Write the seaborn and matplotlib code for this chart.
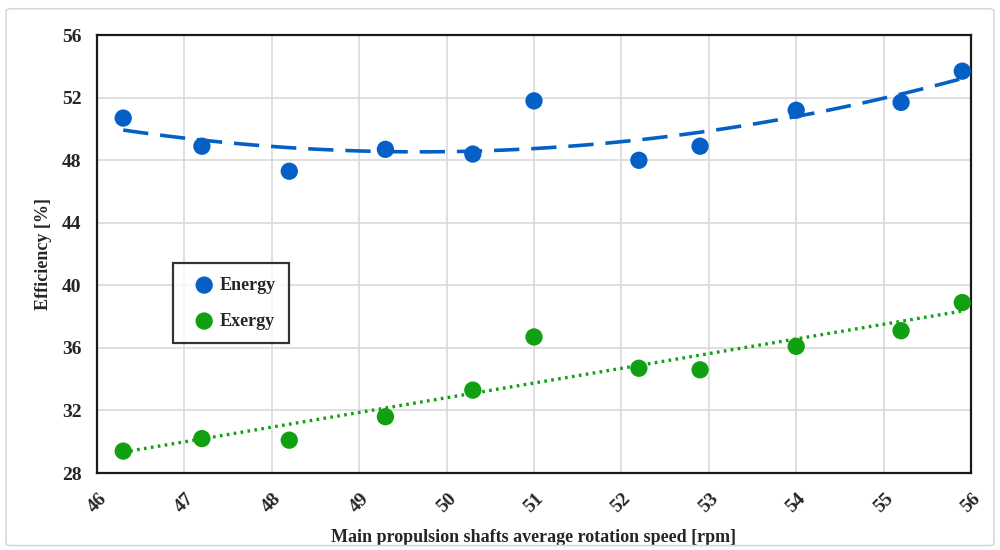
import matplotlib
matplotlib.use("Agg")
import matplotlib.pyplot as plt
from matplotlib.patches import FancyBboxPatch
import seaborn as sns
import numpy as np

speed = [46.3, 47.2, 48.2, 49.3, 50.3, 51.0, 52.2, 52.9, 54.0, 55.2, 55.9]
energy = [50.7, 48.9, 47.3, 48.7, 48.4, 51.8, 48.0, 48.9, 51.2, 51.7, 53.7]
exergy = [29.4, 30.2, 30.1, 31.6, 33.3, 36.7, 34.7, 34.6, 36.1, 37.1, 38.9]
x_ticks = [46, 47, 48, 49, 50, 51, 52, 53, 54, 55, 56]
y_ticks = [28, 32, 36, 40, 44, 48, 52, 56]

blue = "#0560C6"
green = "#11A011"

sns.set_style("white")
plt.rcParams['font.family'] = ['Liberation Serif', 'DejaVu Serif']
plt.rcParams['font.weight'] = 'bold'

fig = plt.figure(figsize=(10, 5.5), dpi=100)
fig.patches.append(FancyBboxPatch((0.006, 0.008), 0.988, 0.976, boxstyle="round,pad=0,rounding_size=0.005",
                                  transform=fig.transFigure, fill=False, edgecolor="#d9d9d9", lw=1.2))
ax = fig.add_axes([0.097, 0.14, 0.874, 0.796])

sns.regplot(x=speed, y=energy, order=2, ci=None, scatter=False, ax=ax,
            line_kws=dict(color=blue, lw=2.6, ls=(0, (7, 3.3))))
sns.regplot(x=speed, y=exergy, order=1, ci=None, scatter=False, ax=ax,
            line_kws=dict(color=green, lw=2.4, ls=(0, (0.8, 1.3)), dash_capstyle='butt'))
sns.scatterplot(x=speed, y=energy, ax=ax, color=blue, s=155, edgecolor='none', label="Energy", zorder=3)
sns.scatterplot(x=speed, y=exergy, ax=ax, color=green, s=155, edgecolor='none', label="Exergy", zorder=3)

ax.set_xlim(46, 56)
ax.set_ylim(28, 56)
ax.set_xticks(x_ticks)
ax.set_yticks(y_ticks)
ax.set_xticklabels([str(t) for t in x_ticks], rotation=45, fontsize=14, fontweight='bold')
ax.set_yticklabels([str(t) for t in y_ticks], fontsize=14, fontweight='bold')
ax.tick_params(axis='x', length=0, pad=12)
ax.tick_params(axis='y', length=0, pad=11)
ax.grid(True, color="#d9d9d9", lw=1.2)
ax.set_axisbelow(True)
for s in ax.spines.values():
    s.set_color("#1a1a1a")
    s.set_linewidth(1.6)

ax.set_xlabel("Main propulsion shafts average rotation speed [rpm]", fontsize=13, fontweight='bold', labelpad=10)
ax.set_ylabel("Efficiency [%]", fontsize=13, fontweight='bold', labelpad=7)

leg = ax.legend(loc='upper left', bbox_to_anchor=(0.0875, 0.479), borderaxespad=0, frameon=True, fancybox=False,
                handletextpad=-0.1, borderpad=0.75, labelspacing=1.05, handlelength=1.9, markerscale=1.0,
                prop=dict(family='Liberation Serif', weight='bold', size=13))
leg.get_frame().set_edgecolor('black')
leg.get_frame().set_linewidth(1.6)

fig.savefig("out.png", dpi=100)
